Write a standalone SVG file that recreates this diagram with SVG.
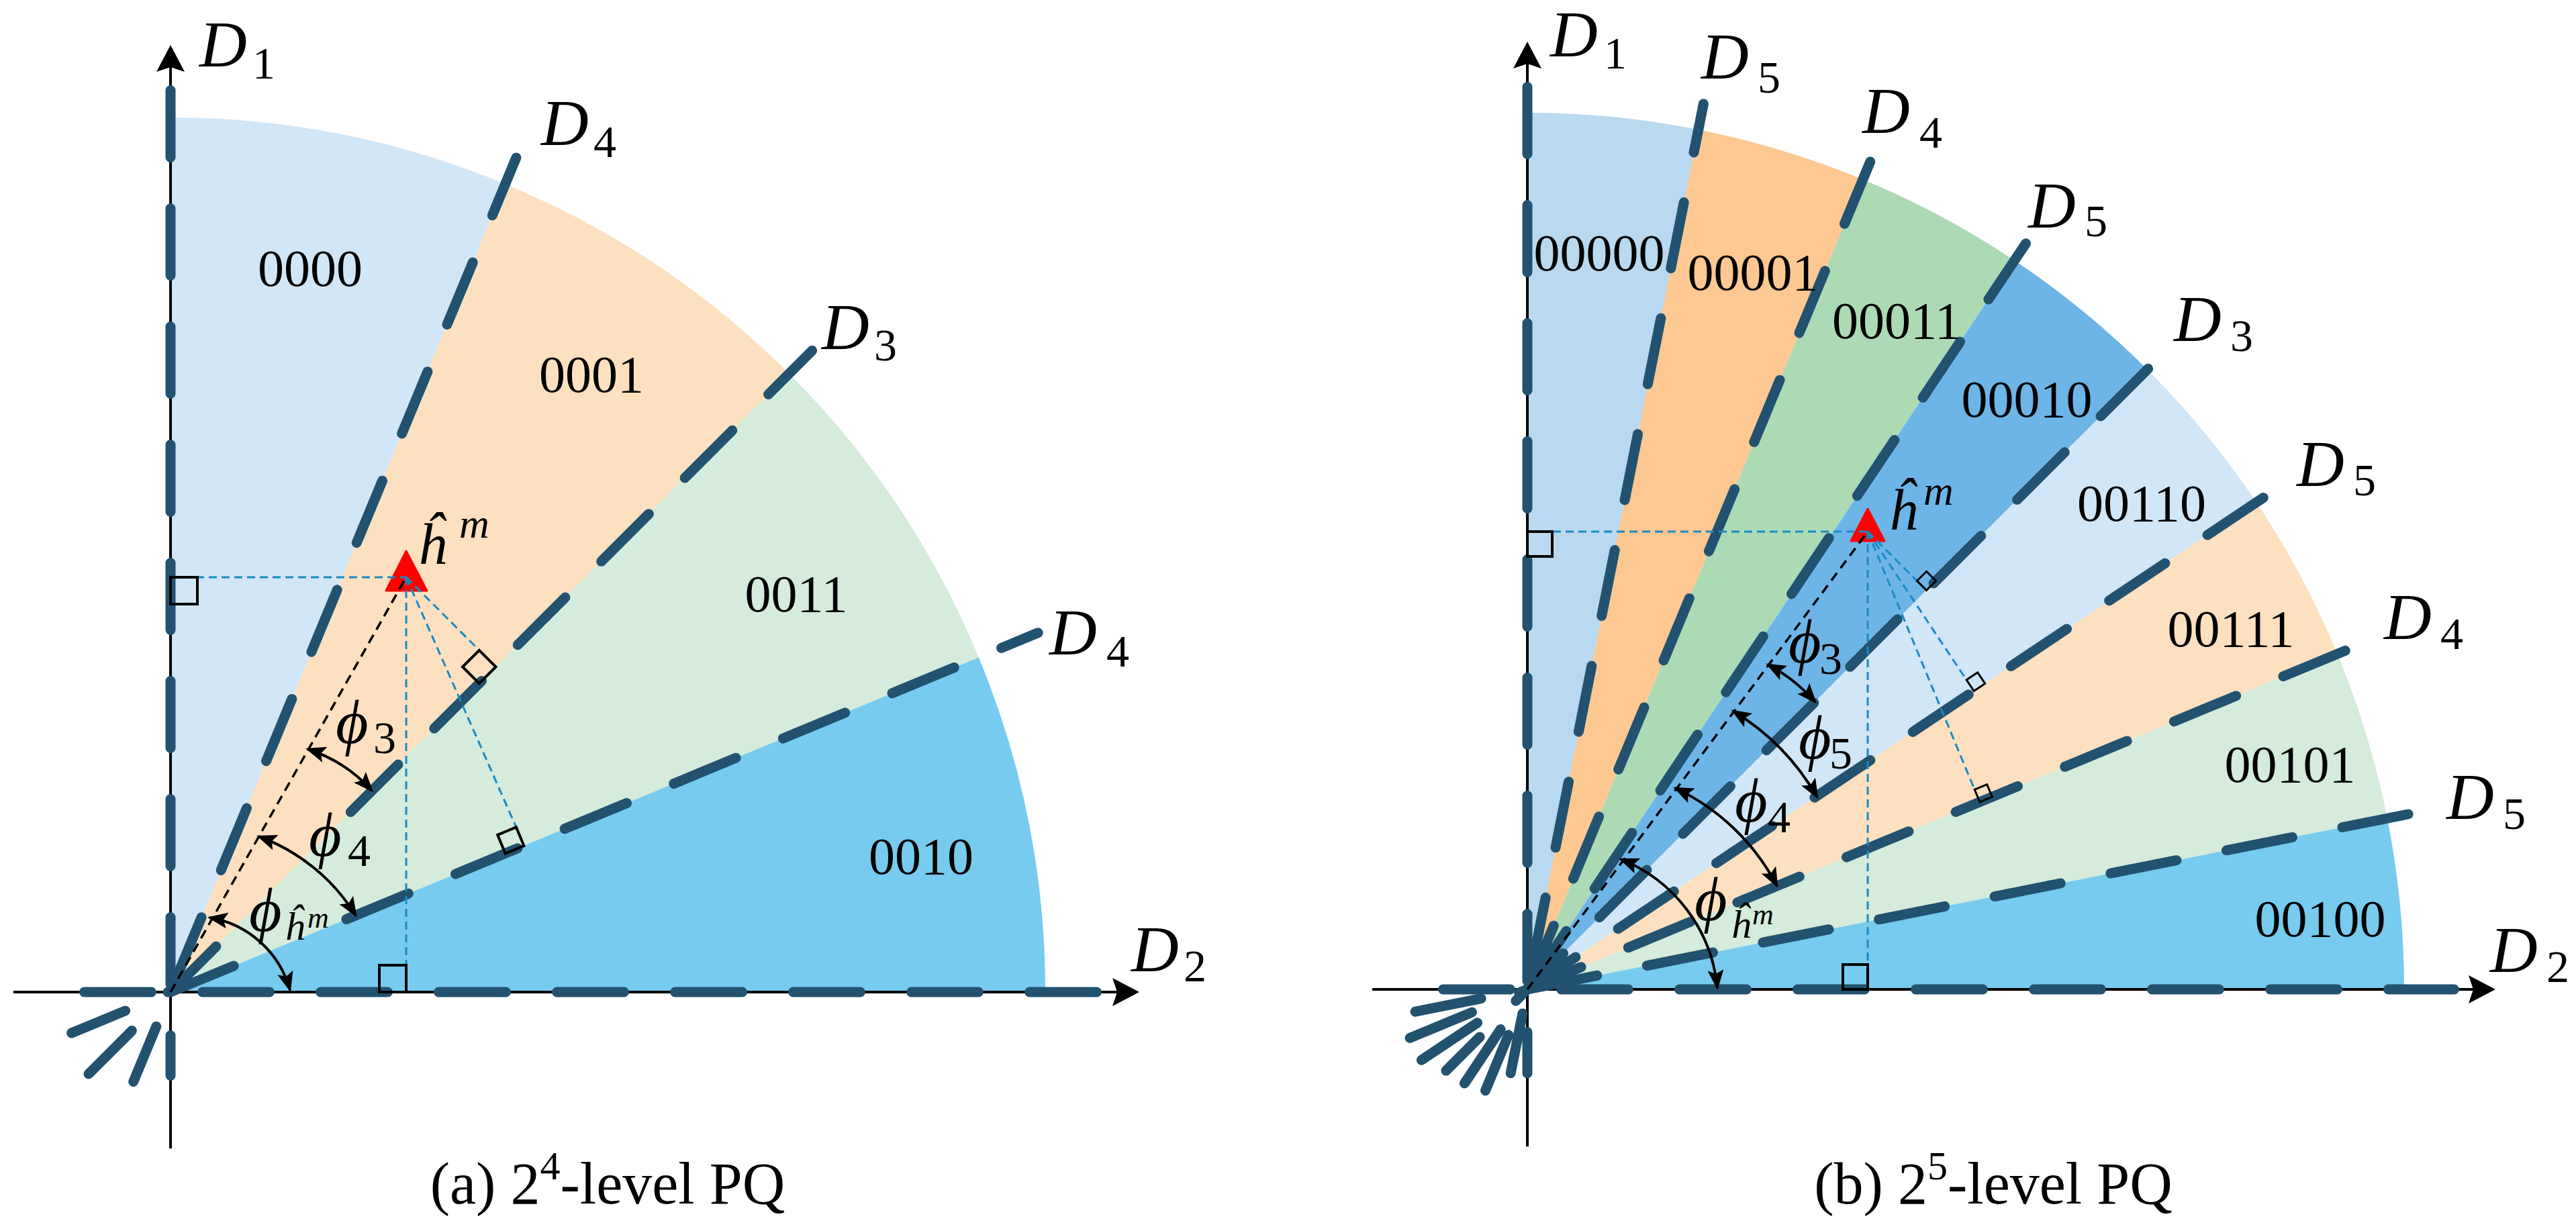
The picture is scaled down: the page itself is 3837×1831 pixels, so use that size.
<svg xmlns="http://www.w3.org/2000/svg" width="3837" height="1831" viewBox="0 0 3837 1831">
<style>
.ax{fill:none;stroke:#000;stroke-width:4;marker-end:url(#axh)}
.dl{fill:none;stroke:#22526f;stroke-width:15;stroke-linecap:round;stroke-dasharray:100 76}
.ds{fill:none;stroke:#22526f;stroke-width:15;stroke-linecap:round}
.bd{fill:none;stroke:#1a8ac4;stroke-width:3;stroke-dasharray:12 7}
.kd{fill:none;stroke:#000;stroke-width:3.5;stroke-dasharray:14 9}
.sq{fill:none;stroke:#000;stroke-width:4}
.sq2{fill:none;stroke:#000;stroke-width:3}
.ar{fill:none;stroke:#000;stroke-width:4;marker-start:url(#arh);marker-end:url(#arh)}
.tri{fill:#ff0000;stroke:#ff0000;stroke-width:3;stroke-linejoin:round}
.rl{font-family:"Liberation Serif","Times New Roman",serif;font-size:78px;text-anchor:middle;fill:#000}
.dm{font-family:"Liberation Serif","Times New Roman",serif;font-style:italic;font-size:98px;fill:#000}
.sb{font-style:normal;font-size:68px}
.ph{font-family:"Liberation Serif","DejaVu Serif",serif;font-style:italic;font-size:94px;fill:#000}
.hm{font-family:"Liberation Serif","Times New Roman",serif;font-style:italic;font-size:86px;fill:#000}
.sup{font-size:62px}
.sh{font-style:italic;font-size:60px}
.sm{font-style:italic;font-size:44px}
.tt{font-family:"Liberation Serif","Times New Roman",serif;font-size:88px;text-anchor:middle;fill:#000}
</style>
<defs>
<marker id="axh" viewBox="0 0 40 42" refX="30" refY="21" markerWidth="40" markerHeight="42" markerUnits="userSpaceOnUse" orient="auto"><path d="M0,0 L40,21 L0,42 L7,21 Z" fill="#000"/></marker>
<marker id="arh" viewBox="0 0 30 24" refX="27" refY="12" markerWidth="30" markerHeight="24" markerUnits="userSpaceOnUse" orient="auto-start-reverse"><path d="M0,0 L30,12 L0,24 L6,12 Z" fill="#000"/></marker>
</defs>
<rect width="3837" height="1831" fill="#fff"/>

<g id="panel-a">
 <g id="a-sectors">
  <path id="a-s0000" d="M254,1478 L254,175 A1303,1303 0 0 1 752.6,274.2 Z" fill="#d1e6f6"/>
  <path id="a-s0001" d="M254,1478 L752.6,274.2 A1303,1303 0 0 1 1175.4,556.6 Z" fill="#fde0bf"/>
  <path id="a-s0011" d="M254,1478 L1175.4,556.6 A1303,1303 0 0 1 1457.8,979.4 Z" fill="#d5ebdb"/>
  <path id="a-s0010" d="M254,1478 L1457.8,979.4 A1303,1303 0 0 1 1557,1478 Z" fill="#77cbee"/>
 </g>
 <g id="a-axes">
  <path class="ax" d="M254,1711 L254,77"/>
  <path class="ax" d="M20,1478 L1687,1478"/>
 </g>
 <g id="a-boundaries">
  <path class="dl" d="M254,1602.5 L254,130.5" stroke-dashoffset="40"/>
  <path class="dl" d="M125.5,1478 L1633.5,1478"/>
  <path class="ds" d="M250,1478 L252,1478"/>
  <path class="dl" d="M198.7,1611.5 L768.9,234.9" stroke-dashoffset="11"/>
  <path class="ds" d="M132,1600 L196.4,1535.6 M254,1478 L321.9,1410.1"/>
  <path class="dl" d="M522.3,1209.7 L1209.7,522.3"/>
  <path class="ds" d="M106.6,1539 L186.6,1505.9 M256.8,1476.9 L348.2,1439"/>
  <path class="dl" d="M515.9,1369.5 L1546.1,942.8"/>
 </g>
 <g id="a-point">
  <polygon class="tri" points="605,821 575,880 636,880"/>
 </g>
 <g id="a-projections">
  <path class="kd" d="M254,1478 L605,860"/>
  <path class="bd" d="M254,860 L605,860"/>
  <path class="bd" d="M605,860 L605,1478"/>
  <path class="bd" d="M605,860 L713.8,968.8"/>
  <path class="bd" d="M605,860 L768.9,1232.4"/>
  <rect class="sq" x="254" y="860" width="40" height="40"/>
  <rect class="sq" x="565" y="1438" width="40" height="40"/>
  <polygon class="sq" points="738.5,993.5 713.8,1018.2 689,993.5 713.8,968.8"/>
  <polygon class="sq" points="780.4,1260.1 752.7,1271.6 741.2,1243.9 768.9,1232.4"/>
 </g>
 <g id="a-angles">
  <path class="ar" d="M458,1116 A220,220 0 0 1 554,1178"/>
  <path class="ar" d="M385,1246 A285,285 0 0 1 530,1364"/>
  <path class="ar" d="M312,1367 A150,150 0 0 1 432,1475"/>
 </g>
 <g id="a-labels">
  <text class="rl" x="462" y="426">0000</text>
  <text class="rl" x="881" y="584">0001</text>
  <text class="rl" x="1186" y="911">0011</text>
  <text class="rl" x="1372" y="1302">0010</text>
  <text class="dm" x="297" y="99">D<tspan class="sb" x="376" y="117">1</tspan></text>
  <text class="dm" x="806" y="216">D<tspan class="sb" x="884" y="234">4</tspan></text>
  <text class="dm" x="1224" y="520">D<tspan class="sb" x="1302" y="537">3</tspan></text>
  <text class="dm" x="1563" y="975">D<tspan class="sb" x="1648" y="993">4</tspan></text>
  <text class="dm" x="1685" y="1447">D<tspan class="sb" x="1763" y="1462">2</tspan></text>
  <text class="hm" x="622" y="840">ĥ<tspan class="sup" x="684" y="801">m</tspan></text>
  <text class="ph" x="500" y="1107">ϕ<tspan class="sb" x="556" y="1122">3</tspan></text>
  <text class="ph" x="460" y="1275">ϕ<tspan class="sb" x="518" y="1290">4</tspan></text>
  <text class="ph" x="371" y="1387">ϕ<tspan class="sh" x="424" y="1400">ĥ</tspan><tspan class="sm" x="458" y="1382">m</tspan></text>
  <text class="tt" x="905" y="1793">(a) 2<tspan dy="-36" font-size="60">4</tspan><tspan dy="36">-level PQ</tspan></text>
 </g>
</g>

<g id="panel-b">
 <g id="b-sectors">
  <path id="b-s00000" d="M2275,1474 L2275,168 A1306,1306 0 0 1 2529.8,193.1 Z" fill="#b8d9ef"/>
  <path id="b-s00001" d="M2275,1474 L2529.8,193.1 A1306,1306 0 0 1 2774.8,267.4 Z" fill="#fdc891"/>
  <path id="b-s00011" d="M2275,1474 L2774.8,267.4 A1306,1306 0 0 1 3000.6,388.1 Z" fill="#acdab5"/>
  <path id="b-s00010" d="M2275,1474 L3000.6,388.1 A1306,1306 0 0 1 3198.5,550.5 Z" fill="#6eb5e7"/>
  <path id="b-s00110" d="M2275,1474 L3198.5,550.5 A1306,1306 0 0 1 3360.9,748.4 Z" fill="#d1e6f6"/>
  <path id="b-s00111" d="M2275,1474 L3360.9,748.4 A1306,1306 0 0 1 3481.6,974.2 Z" fill="#fde0bf"/>
  <path id="b-s00101" d="M2275,1474 L3481.6,974.2 A1306,1306 0 0 1 3555.9,1219.2 Z" fill="#d5ebdb"/>
  <path id="b-s00100" d="M2275,1474 L3555.9,1219.2 A1306,1306 0 0 1 3581,1474 Z" fill="#77cbee"/>
 </g>
 <g id="b-axes">
  <path class="ax" d="M2275,1708 L2275,72"/>
  <path class="ax" d="M2044,1474 L3707,1474"/>
 </g>
 <g id="b-boundaries">
  <path class="dl" d="M2149.5,1474 L3655.5,1474"/>
  <path class="dl" d="M2275,1599 L2275,129.5" stroke-dashoffset="38.5"/>
  <path class="dl" d="M2250.2,1598.8 L2537.4,154.8" stroke-dashoffset="9.4"/>
  <path class="dl" d="M2212.6,1624.7 L2790.5,229.5" stroke-dashoffset="10.3"/>
  <path class="dl" d="M2181.4,1614 L3017.8,362.3" stroke-dashoffset="3.2"/>
  <path class="dl" d="M2153.9,1595.1 L3207,542" stroke-dashoffset="29"/>
  <path class="dl" d="M2117.4,1579.3 L3381.4,734.7"/>
  <path class="dl" d="M2100.1,1546.4 L3518.7,958.8"/>
  <path class="dl" d="M2108.1,1507.2 L3592.2,1212"/>
 </g>
 <g id="b-point">
  <polygon class="tri" points="2782,758 2757,806 2807,806"/>
 </g>
 <g id="b-projections">
  <path class="kd" d="M2275,1474 L2782,792"/>
  <path class="bd" d="M2275,792 L2782,792"/>
  <path class="bd" d="M2782,792 L2782,1474"/>
  <path class="bd" d="M2782,792 L2855.4,865.4"/>
  <path class="bd" d="M2782,792 L2929.1,1012.9"/>
  <path class="bd" d="M2782,792 L2941.2,1176.4"/>
  <rect class="sq" x="2275" y="792" width="37" height="37"/>
  <rect class="sq" x="2745" y="1437" width="37" height="37"/>
  <polygon class="sq2" points="2869.5,879.5 2883.6,865.4 2869.5,851.3 2855.4,865.4"/>
  <polygon class="sq2" points="2940.2,1029.5 2956.8,1018.4 2945.7,1001.8 2929.1,1012.9"/>
  <polygon class="sq2" points="2948.9,1194.9 2967.4,1187.2 2959.7,1168.7 2941.2,1176.4"/>
 </g>
 <g id="b-angles">
  <path class="ar" d="M2633,990 A250,250 0 0 1 2704,1046"/>
  <path class="ar" d="M2581,1059 A360,360 0 0 1 2707,1188"/>
  <path class="ar" d="M2495,1174 A330,330 0 0 1 2647,1320"/>
  <path class="ar" d="M2414,1280 A230,230 0 0 1 2558,1472"/>
 </g>
 <g id="b-labels">
  <text class="rl" x="2382" y="403">00000</text>
  <text class="rl" x="2611" y="432">00001</text>
  <text class="rl" x="2825" y="504">00011</text>
  <text class="rl" x="3019" y="621">00010</text>
  <text class="rl" x="3190" y="776">00110</text>
  <text class="rl" x="3323" y="963">00111</text>
  <text class="rl" x="3411" y="1165">00101</text>
  <text class="rl" x="3456" y="1395">00100</text>
  <text class="dm" x="2309" y="84">D<tspan class="sb" x="2389" y="102">1</tspan></text>
  <text class="dm" x="2534" y="117">D<tspan class="sb" x="2618" y="138">5</tspan></text>
  <text class="dm" x="2774" y="198">D<tspan class="sb" x="2859" y="220">4</tspan></text>
  <text class="dm" x="3021" y="339">D<tspan class="sb" x="3105" y="352">5</tspan></text>
  <text class="dm" x="3238" y="508">D<tspan class="sb" x="3322" y="523">3</tspan></text>
  <text class="dm" x="3421" y="724">D<tspan class="sb" x="3505" y="738">5</tspan></text>
  <text class="dm" x="3551" y="952">D<tspan class="sb" x="3635" y="967">4</tspan></text>
  <text class="dm" x="3644" y="1220">D<tspan class="sb" x="3728" y="1235">5</tspan></text>
  <text class="dm" x="3709" y="1448">D<tspan class="sb" x="3793" y="1463">2</tspan></text>
  <text class="hm" x="2813" y="789">ĥ<tspan class="sup" x="2865" y="752">m</tspan></text>
  <text class="ph" x="2664" y="987">ϕ<tspan class="sb" x="2710" y="1004">3</tspan></text>
  <text class="ph" x="2679" y="1130">ϕ<tspan class="sb" x="2725" y="1145">5</tspan></text>
  <text class="ph" x="2584" y="1224">ϕ<tspan class="sb" x="2633" y="1240">4</tspan></text>
  <text class="ph" x="2524" y="1371">ϕ<tspan class="sh" x="2578" y="1397">ĥ</tspan><tspan class="sm" x="2610" y="1377">m</tspan></text>
  <text class="tt" x="2969" y="1793">(b) 2<tspan dy="-36" font-size="60">5</tspan><tspan dy="36">-level PQ</tspan></text>
 </g>
</g>
</svg>
